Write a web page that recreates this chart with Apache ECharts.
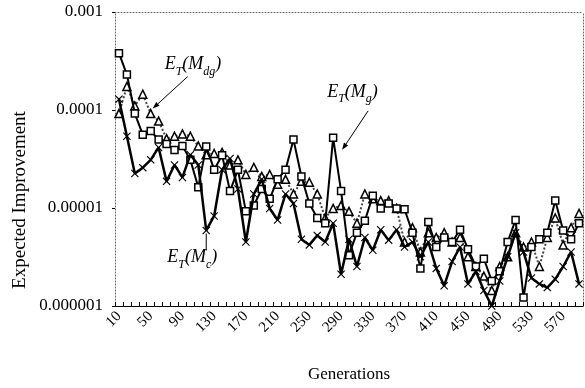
<!DOCTYPE html>
<html>
<head>
<meta charset="utf-8">
<script src="https://cdn.jsdelivr.net/npm/echarts@6/dist/echarts.min.js"></script>
<style>
  html, body { margin: 0; padding: 0; background: #fff; }
  #chart { width: 585px; height: 388px; }
</style>
</head>
<body>
<div id="chart"></div>
<script>
// Generation number of each sample
const generations = [
  10, 20, 30, 40, 50, 60, 70, 80, 90, 100,
  110, 120, 130, 140, 150, 160, 170, 180, 190, 200,
  210, 220, 230, 240, 250, 260, 270, 280, 290, 300,
  310, 320, 330, 340, 350, 360, 370, 380, 390, 400,
  410, 420, 430, 440, 450, 460, 470, 480, 490, 500,
  510, 520, 530, 540, 550, 560, 570, 580, 590
];

// Labels shown on the logarithmic value axis
const yTickLabels = ['0.000001', '0.00001', '0.0001', '0.001'];

// Expected improvement E_T(M_g)
const improvementMg = [
  3.8e-4, 2.3e-4, 9.2e-5, 5.6e-5, 6.1e-5, 5.0e-5, 4.5e-5, 3.9e-5, 4.3e-5, 3.1e-5,
  1.63e-5, 4.25e-5, 2.46e-5, 3.46e-5, 1.49e-5, 2.46e-5, 9.25e-6, 1.06e-5, 1.56e-5, 1.24e-5,
  1.96e-5, 2.46e-5, 5.0e-5, 2.1e-5, 1.11e-5, 7.9e-6, 7.0e-6, 5.2e-5, 1.49e-5, 3.3e-6,
  5.6e-6, 7.4e-6, 1.33e-5, 9.9e-6, 1.11e-5, 9.9e-6, 9.7e-6, 5.6e-6, 2.42e-6, 7.2e-6,
  4.0e-6, 5.0e-6, 4.5e-6, 6.0e-6, 3.8e-6, 2.53e-6, 3.04e-6, 1.8e-6, 2.26e-6, 4.5e-6,
  7.55e-6, 1.22e-6, 4.0e-6, 4.8e-6, 5.6e-6, 1.19e-5, 5.9e-6, 4.8e-6, 7.0e-6
];

// Expected improvement E_T(M_dg)
const improvementMdg = [
  9.2e-5, 1.74e-4, 1.1e-4, 1.45e-4, 9.2e-5, 7.7e-5, 5.1e-5, 5.4e-5, 5.7e-5, 5.4e-5,
  4.3e-5, 3.5e-5, 3.6e-5, 3.7e-5, 2.75e-5, 3.1e-5, 2.2e-5, 2.6e-5, 2.1e-5, 2.2e-5,
  1.75e-5, 1.96e-5, 1.39e-5, 1.87e-5, 1.83e-5, 1.39e-5, 7.9e-6, 9.9e-6, 1.06e-5, 9.25e-6,
  7.0e-6, 1.39e-5, 1.24e-5, 1.19e-5, 1.19e-5, 9.9e-6, 4.5e-6, 6.3e-6, 3.56e-6, 5.6e-6,
  5.0e-6, 5.6e-6, 4.5e-6, 5.0e-6, 3.18e-6, 2.53e-6, 2.02e-6, 1.44e-6, 2.53e-6, 3.18e-6,
  5.6e-6, 4.0e-6, 4.5e-6, 2.53e-6, 5.0e-6, 7.9e-6, 4.2e-6, 6.3e-6, 8.8e-6
];

// Expected improvement E_T(M_c)
const improvementMc = [
  1.29e-4, 5.4e-5, 2.25e-5, 2.58e-5, 3.1e-5, 4.15e-5, 1.87e-5, 2.75e-5, 2.05e-5, 3.5e-5,
  2.75e-5, 5.9e-6, 8.3e-6, 2.46e-5, 3.2e-5, 1.56e-5, 4.5e-6, 1.39e-5, 1.96e-5, 9.9e-6,
  7.55e-6, 1.39e-5, 1.11e-5, 4.8e-6, 4.2e-6, 5.25e-6, 4.5e-6, 7.0e-6, 2.11e-6, 4.8e-6,
  2.53e-6, 5.0e-6, 3.7e-6, 6.0e-6, 4.7e-6, 6.0e-6, 4.0e-6, 4.5e-6, 3.18e-6, 4.5e-6,
  2.42e-6, 1.61e-6, 2.84e-6, 4.0e-6, 1.68e-6, 2.26e-6, 1.44e-6, 1.0e-6, 1.8e-6, 3.18e-6,
  5.6e-6, 3.56e-6, 1.93e-6, 1.68e-6, 1.54e-6, 1.88e-6, 2.53e-6, 3.56e-6, 1.68e-6
];

const SERIF = '"Liberation Serif", "DejaVu Serif", serif';
const CROSS = 'path://M1,0 L5,4 L9,0 L10,1 L6,5 L10,9 L9,10 L5,6 L1,10 L0,9 L4,5 L0,1 Z';

const chart = echarts.init(document.getElementById('chart'), null, { renderer: 'canvas' });

const dottedFrame = { show: true, lineStyle: { color: '#666', width: 1, type: [1, 2] } };

const option = {
  animation: false,
  backgroundColor: '#fff',
  grid: { left: 115, right: 2, top: 12, bottom: 72, containLabel: false },
  xAxis: [
    {
      type: 'category',
      data: generations,
      boundaryGap: true,
      name: 'Generations',
      nameLocation: 'middle',
      nameGap: 60,
      nameTextStyle: { fontFamily: SERIF, fontSize: 17, color: '#000' },
      axisLine: { show: true, lineStyle: { color: '#000', width: 1 } },
      axisTick: { show: true, interval: 0, inside: true, length: 4, lineStyle: { color: '#000' } },
      axisLabel: { interval: 3, rotate: 45, fontFamily: SERIF, fontSize: 15, color: '#000', margin: 8 },
      splitLine: { show: false }
    },
    {
      type: 'category',
      data: generations,
      position: 'top',
      axisLine: dottedFrame,
      axisTick: { show: false },
      axisLabel: { show: false },
      splitLine: { show: false }
    }
  ],
  yAxis: [
    {
      type: 'log',
      logBase: 10,
      min: 1e-6,
      max: 1e-3,
      axisLine: dottedFrame,
      axisTick: { show: true, length: 3, lineStyle: { color: '#000' } },
      axisLabel: {
        fontFamily: SERIF, fontSize: 17, color: '#000', margin: 12,
        formatter: v => yTickLabels[Math.round(Math.log10(v)) + 6] || ''
      },
      splitLine: { show: false },
      minorTick: { show: false }
    },
    {
      type: 'log',
      logBase: 10,
      min: 1e-6,
      max: 1e-3,
      position: 'right',
      axisLine: dottedFrame,
      axisTick: { show: false },
      axisLabel: { show: false },
      splitLine: { show: false }
    }
  ],
  series: [
    {
      name: 'E_T(M_dg)',
      type: 'line',
      data: improvementMdg,
      symbol: 'triangle',
      symbolSize: 8,
      showAllSymbol: true,
      lineStyle: { color: '#444', width: 2, type: [2, 2] },
      itemStyle: { color: '#fff', borderColor: '#000', borderWidth: 1.5 },
      z: 2
    },
    {
      name: 'E_T(M_g)',
      type: 'line',
      data: improvementMg,
      symbol: 'rect',
      symbolSize: 7,
      showAllSymbol: true,
      lineStyle: { color: '#000', width: 2 },
      itemStyle: { color: '#fff', borderColor: '#000', borderWidth: 1.5 },
      z: 3
    },
    {
      name: 'E_T(M_c)',
      type: 'line',
      data: improvementMc,
      symbol: CROSS,
      symbolSize: 8,
      showAllSymbol: true,
      lineStyle: { color: '#000', width: 2.5 },
      itemStyle: { color: '#000' },
      z: 4
    }
  ]
};

chart.setOption(option);

// Annotation labels with subscripts, each tied to a data point
function subLabel(sub) {
  return '{m|E}{s|T}{m|(M}{s|' + sub + '}{m|)}';
}
const richStyles = {
  m: { fontFamily: SERIF, fontStyle: 'italic', fontSize: 18, color: '#000', verticalAlign: 'top', lineHeight: 22 },
  s: { fontFamily: SERIF, fontStyle: 'italic', fontSize: 12, color: '#000', verticalAlign: 'bottom', lineHeight: 22 }
};

function arrow(x1, y1, x2, y2) {
  const dx = x2 - x1, dy = y2 - y1;
  const len = Math.sqrt(dx * dx + dy * dy);
  const ux = dx / len, uy = dy / len;
  const head = 7, half = 2.5;
  const bx = x2 - ux * head, by = y2 - uy * head;
  return [
    { type: 'line', shape: { x1, y1, x2: bx, y2: by }, style: { stroke: '#000', lineWidth: 1 }, z: 10 },
    {
      type: 'polygon',
      shape: { points: [[x2, y2], [bx - uy * half, by + ux * half], [bx + uy * half, by - ux * half]] },
      style: { fill: '#000' }, z: 10
    }
  ];
}

const pDg = chart.convertToPixel({ seriesIndex: 0 }, [4, improvementMdg[4]]);
const pG = chart.convertToPixel({ seriesIndex: 1 }, [27, improvementMg[27]]);
const pC = chart.convertToPixel({ seriesIndex: 2 }, [11, improvementMc[11]]);

const graphics = [];
// Value axis title, rotated
graphics.push({
  type: 'text', x: 20, y: 200, rotation: Math.PI / 2,
  style: { text: 'Expected Improvement', fontFamily: SERIF, fontSize: 19, fill: '#000', align: 'center', verticalAlign: 'middle' }
});
// E_T(M_dg)
graphics.push(...arrow(pDg[0] + 37, pDg[1] - 37, pDg[0] + 2, pDg[1] - 5));
graphics.push({ type: 'text', x: pDg[0] + 14, y: pDg[1] - 58, style: { text: subLabel('dg'), rich: richStyles }, z: 10 });
// E_T(M_g)
graphics.push(...arrow(pG[0] + 35, pG[1] - 27, pG[0] + 9, pG[1] + 12));
graphics.push({ type: 'text', x: pG[0] - 6, y: pG[1] - 55, style: { text: subLabel('g'), rich: richStyles }, z: 10 });
// E_T(M_c)
graphics.push({ type: 'line', shape: { x1: pC[0], y1: pC[1] + 3, x2: pC[0], y2: pC[1] + 20 }, style: { stroke: '#000', lineWidth: 1 }, z: 10 });
graphics.push({ type: 'text', x: pC[0] - 39, y: pC[1] + 18, style: { text: subLabel('c'), rich: richStyles }, z: 10 });

chart.setOption({ graphic: graphics });
</script>
</body>
</html>
